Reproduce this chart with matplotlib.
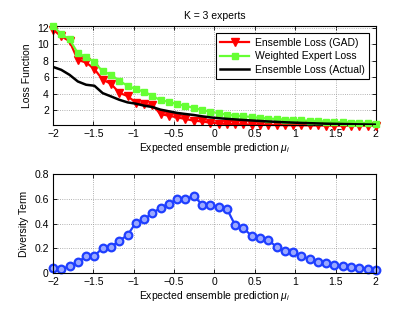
import numpy as np
import matplotlib
matplotlib.use('Agg')
import matplotlib.pyplot as plt

plt.rcParams['font.family'] = ['Liberation Sans', 'DejaVu Sans']
plt.rcParams['mathtext.fontset'] = 'custom'
plt.rcParams['mathtext.rm'] = 'Liberation Sans'
plt.rcParams['mathtext.it'] = 'Liberation Sans:italic'

# expected ensemble prediction, 40 points from -2 to 2
mu = np.linspace(-2, 2, 40)

loss_gad = [11.8, 11.0, 10.4, 8.1, 7.8, 7.0, 5.7, 5.2, 4.1, 3.7,
            2.9, 2.7, 2.6, 1.5, 1.3, 1.1, 0.9, 0.7, 0.6, 0.45,
            0.35, 0.3, 0.27, 0.25, 0.22, 0.2, 0.18, 0.16, 0.15, 0.14,
            0.13, 0.12, 0.11, 0.1, 0.1, 0.09, 0.09, 0.08, 0.08, 0.08]
loss_weighted = [12.24, 11.27, 10.62, 8.92, 8.48, 7.83, 6.7, 6.33, 5.56, 4.96,
                 4.55, 4.23, 3.74, 3.17, 3.01, 2.69, 2.53, 2.24, 2.0, 1.8,
                 1.6, 1.43, 1.31, 1.23, 1.15, 1.03, 0.95, 0.91, 0.83, 0.79,
                 0.74, 0.68, 0.63, 0.58, 0.54, 0.5, 0.46, 0.42, 0.38, 0.34]
loss_actual = [7.26, 6.9, 6.29, 5.48, 5.08, 4.96, 4.06, 3.66, 3.25, 2.93,
               2.77, 2.53, 2.36, 2.04, 1.84, 1.64, 1.51, 1.39, 1.23, 1.1,
               1.0, 0.92, 0.85, 0.78, 0.72, 0.66, 0.6, 0.55, 0.5, 0.46,
               0.42, 0.39, 0.36, 0.33, 0.31, 0.29, 0.27, 0.25, 0.23, 0.21]
diversity = [0.038, 0.032, 0.054, 0.089, 0.134, 0.137, 0.204, 0.21, 0.261, 0.306,
             0.406, 0.435, 0.484, 0.527, 0.562, 0.597, 0.597, 0.624, 0.554, 0.554,
             0.535, 0.52, 0.387, 0.365, 0.298, 0.285, 0.266, 0.212, 0.18, 0.167,
             0.14, 0.11, 0.089, 0.083, 0.065, 0.054, 0.048, 0.038, 0.035, 0.027]

xlab = r'Expected ensemble prediction $\mu_i$'
fs = 7.5

fig = plt.figure(figsize=(4.15, 3.12), dpi=100)
ax1 = fig.add_axes([0.1277, 0.5994, 0.778, 0.317])
ax2 = fig.add_axes([0.1277, 0.125, 0.778, 0.317])

ax1.plot(mu, loss_gad, '-v', color='red', lw=1.6, ms=6, clip_on=False,
         label='Ensemble Loss (GAD)', zorder=2)
ax1.plot(mu, loss_weighted, '-s', color='#66ff33', lw=1.6, ms=5, clip_on=False,
         label='Weighted Expert Loss', zorder=3)
ax1.plot(mu, loss_actual, '-', color='black', lw=1.8,
         label='Ensemble Loss (Actual)', zorder=4)
ax1.set_ylim(0.17, 12.24)
ax1.set_yticks([2, 4, 6, 8, 10, 12])
ax1.set_ylabel('Loss Function', fontsize=fs)
ax1.set_title('K = 3 experts', fontsize=fs, pad=5)
leg = ax1.legend(loc='upper right', fontsize=fs, fancybox=False,
                 edgecolor='black', framealpha=1, borderaxespad=0.7,
                 handlelength=2.8, handletextpad=0.5, labelspacing=0.35,
                 borderpad=0.4)
leg.get_frame().set_linewidth(0.8)
leg.set_zorder(10)

ax2.plot(mu, diversity, '-o', color='#1f3fff', lw=1.6, ms=5.5,
         mfc='#9aa8ff', mew=1.6, clip_on=False)
ax2.set_ylim(0, 0.8)
ax2.set_yticks([0, 0.2, 0.4, 0.6, 0.8])
ax2.set_yticklabels(['0', '0.2', '0.4', '0.6', '0.8'])
ax2.set_ylabel('Diversity Term', fontsize=fs)

for ax in (ax1, ax2):
    ax.set_xlim(-2, 2)
    ax.set_xticks([-2, -1.5, -1, -0.5, 0, 0.5, 1, 1.5, 2])
    ax.set_xticklabels(['\u22122', '\u22121.5', '\u22121', '\u22120.5', '0',
                        '0.5', '1', '1.5', '2'])
    ax.set_xlabel(xlab, fontsize=fs, labelpad=1)
    ax.grid(True, linestyle=':', color='#999999', lw=0.6)
    ax.tick_params(direction='in', top=True, right=True, labelsize=fs,
                   length=3, width=0.6, pad=3)
    for s in ax.spines.values():
        s.set_linewidth(0.8)

fig.savefig('out.png', dpi=100)
